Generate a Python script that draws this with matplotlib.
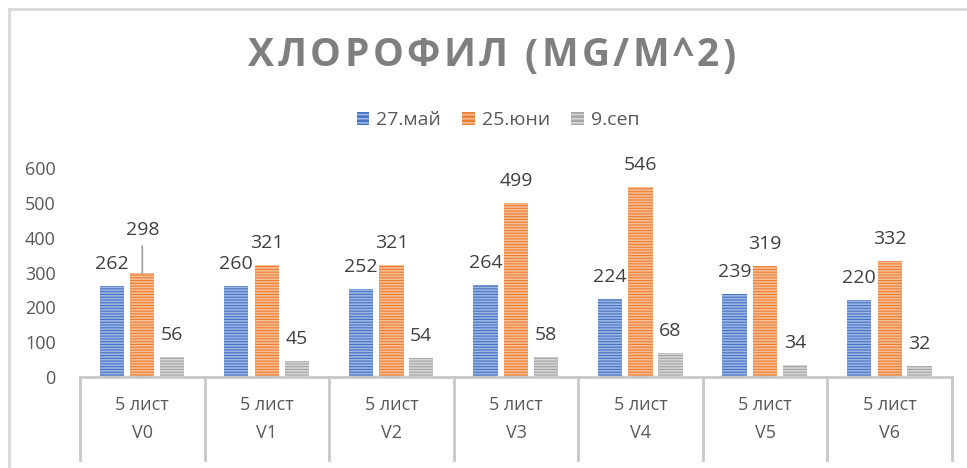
import matplotlib
matplotlib.use("Agg")
import matplotlib.pyplot as plt
import matplotlib.transforms as mtransforms
from matplotlib.lines import Line2D
import numpy as np

plt.rcParams['font.family'] = ['Open Sans', 'DejaVu Sans']
plt.rcParams['hatch.linewidth'] = 1.2

title = "ХЛОРОФИЛ (MG/M^2)"
groups = ["V0", "V1", "V2", "V3", "V4", "V5", "V6"]
sublabels = ["5 лист"] * 7
series_names = ["27.май", "25.юни", "9.сеп"]
may = [262, 260, 252, 264, 224, 239, 220]
june = [298, 321, 321, 499, 546, 319, 332]
sep = [56, 45, 54, 58, 68, 34, 32]
yticks = [0, 100, 200, 300, 400, 500, 600]

colors = ["#4472C4", "#ED7D31", "#A5A5A5"]
stripes = ["#9DB5E3", "#F6BC92", "#D4D4D4"]

W, H = 967, 468
fig = plt.figure(figsize=(W / 100, H / 100), dpi=100)
fig.patch.set_facecolor("white")

ax_left, ax_right, ax_bottom, ax_top = 80, 952, 377, 168
ax = fig.add_axes([ax_left / W, 1 - ax_bottom / H, (ax_right - ax_left) / W, (ax_bottom - ax_top) / H])

x = np.arange(len(groups))
offsets = [-0.245, 0.0, 0.24]
bw = 0.195
data = [may, june, sep]
for k, vals in enumerate(data):
    ax.bar(x + offsets[k], vals, width=bw, color=colors[k], edgecolor=stripes[k],
           linewidth=0, hatch="------", label=series_names[k], zorder=2)
    for i, v in enumerate(vals):
        if k == 1 and i == 0:
            ax.annotate(str(v), xy=(x[i] + offsets[k], v), xytext=(0, 31), textcoords="offset points",
                        ha="center", va="center", fontsize=14, color="#404040",
                        arrowprops=dict(arrowstyle="-", color="#a6a6a6", lw=1.3, shrinkA=3, shrinkB=0))
        else:
            ax.annotate(str(v), xy=(x[i] + offsets[k], v), xytext=(0, 16), textcoords="offset points",
                        ha="center", va="center", fontsize=14, color="#404040")

ax.set_xlim(-0.5, len(groups) - 0.5)
ax.set_ylim(0, 600)
ax.set_yticks(yticks)
ax.set_yticklabels([str(t) for t in yticks], fontsize=13, color="#595959")
ax.tick_params(axis="y", length=0, pad=17.5)
ax.set_xticks([])
for s in ["top", "right", "left"]:
    ax.spines[s].set_visible(False)
ax.spines["bottom"].set_color("#c8c8c8")
ax.spines["bottom"].set_linewidth(2)

trans = mtransforms.blended_transform_factory(ax.transData, ax.transAxes)
axh = ax_bottom - ax_top
for b in np.arange(len(groups) + 1) - 0.5:
    ax.add_line(Line2D([b, b], [0, -(460 - ax_bottom) / axh], transform=trans, color="#c8c8c8",
                       lw=2, clip_on=False))
for i in range(len(groups)):
    ax.text(x[i], -(405 - ax_bottom) / axh, sublabels[i], transform=trans, ha="center", va="center",
            fontsize=13, color="#595959")
    ax.text(x[i], -(433 - ax_bottom) / axh, groups[i], transform=trans, ha="center", va="center",
            fontsize=13, color="#595959")

# Title with letter spacing
renderer = fig.canvas.get_renderer()
tkw = dict(fontsize=28, fontweight="bold", color="#7f7f7f", va="center", ha="left")
probe = fig.text(0, 0, "", **tkw)
def text_w(s):
    probe.set_text(s + "|")
    w1 = probe.get_window_extent(renderer).width
    probe.set_text("|")
    w0 = probe.get_window_extent(renderer).width
    return w1 - w0
probe.remove()
probe = fig.text(0, 0, "", **tkw)
total_nat = text_w(title)
target = 487.0
spacing = (target - total_nat) / (len(title) - 1)
start = 492 - target / 2
for i, ch in enumerate(title):
    xpos = start + (text_w(title[:i]) if i > 0 else 0) + i * spacing
    fig.text(xpos / W, 1 - 56 / H, ch, **tkw)
probe.remove()

handles = [plt.Rectangle((0, 0), 1, 1, facecolor=colors[k], edgecolor=stripes[k], linewidth=0,
                         hatch="----") for k in range(3)]
fig.legend(handles, series_names, loc="center", bbox_to_anchor=(498 / W, 1 - 120 / H), ncol=3,
           frameon=False, fontsize=14, labelcolor="#595959", handlelength=0.65, handleheight=0.65,
           handletextpad=0.35, columnspacing=1.1)

fig.add_artist(Line2D([9 / W, 9 / W], [0, 1 - 9 / H], transform=fig.transFigure, color="#d9d9d9", lw=2))
fig.add_artist(Line2D([9 / W, 1], [1 - 9 / H, 1 - 9 / H], transform=fig.transFigure, color="#d9d9d9", lw=2))

fig.savefig("out.png", dpi=100, facecolor="white")
